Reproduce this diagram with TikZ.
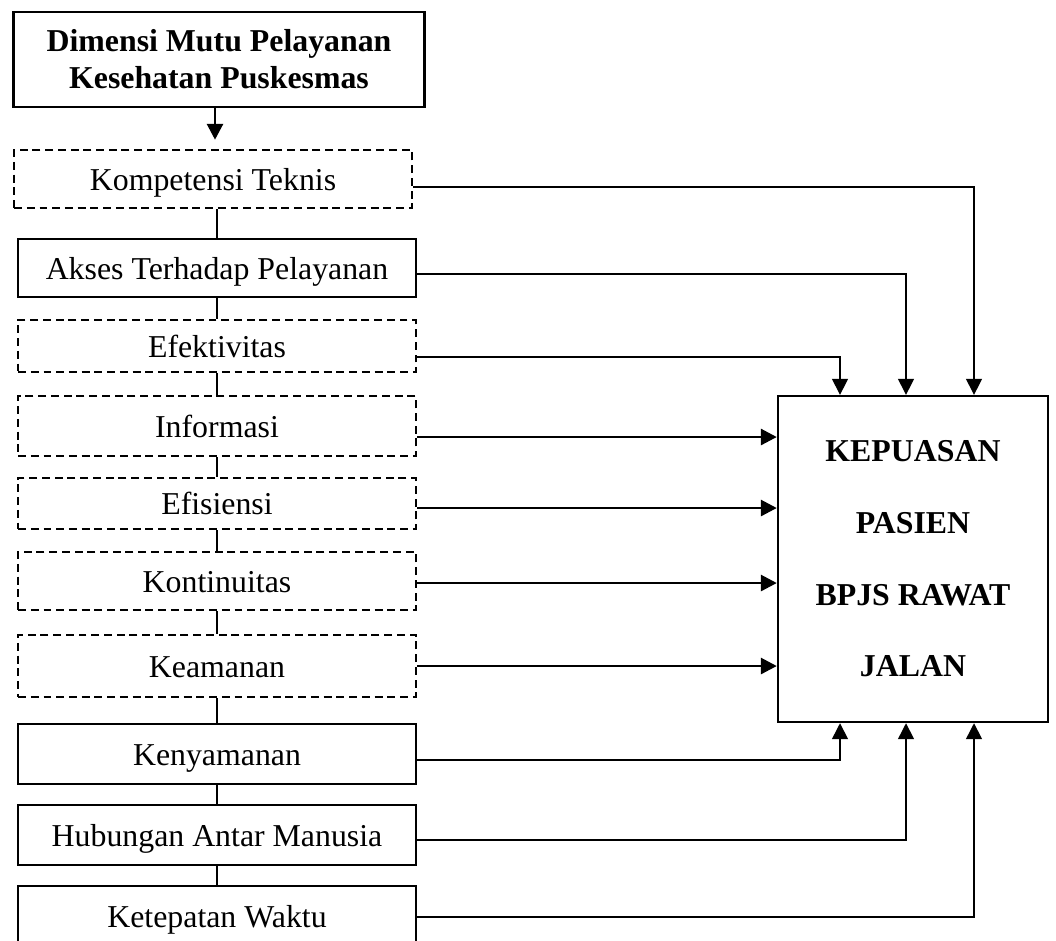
\documentclass[tikz,border=0pt]{standalone}
\usepackage{fontspec}
\setmainfont{Liberation Serif}
\usetikzlibrary{arrows.meta}

\begin{document}
\begin{tikzpicture}[x=0.377pt, y=-0.377pt,
    >={Triangle[length=6pt,width=6pt]},
    dimbox/.style={draw, line width=0.9pt, minimum width=150pt, inner sep=0pt,
        text height=8.4pt, text depth=0pt, font=\fontsize{12}{14}\selectfont},
    dimdash/.style={dimbox, dash pattern=on 3pt off 1.8pt},
    thinline/.style={line width=0.55pt},
    thickline/.style={line width=1.1pt}]
    \useasboundingbox (0,0) rectangle (1056,940);

    % Header box
    \node[draw, line width=0.9pt, minimum width=155pt, minimum height=35.8pt,
        align=center, font=\bfseries\fontsize{12}{14}\selectfont]
        (dimensi) at (219,59.5) {Dimensi Mutu Pelayanan\\Kesehatan Puskesmas};

    % Dimensions (left column)
    \node[dimdash, minimum height=21.9pt] (kompetensi) at (213,179) {Kompetensi Teknis};
    \node[dimbox, minimum height=21.9pt] (akses) at (217,268) {Akses Terhadap Pelayanan};
    \node[dimdash, minimum height=19.6pt] (efektivitas) at (217,346) {Efektivitas};
    \node[dimdash, minimum height=22.6pt] (informasi) at (217,426) {Informasi};
    \node[dimdash, minimum height=19.2pt] (efisiensi) at (217,503.5) {Efisiensi};
    \node[dimdash, minimum height=21.9pt] (kontinuitas) at (217,581) {Kontinuitas};
    \node[dimdash, minimum height=23.4pt] (keamanan) at (217,666) {Keamanan};
    \node[dimbox, minimum height=22.6pt] (kenyamanan) at (217,754) {Kenyamanan};
    \node[dimbox, minimum height=22.6pt] (hubungan) at (217,835) {Hubungan Antar Manusia};
    \node[dimbox, minimum height=22.6pt] (ketepatan) at (217,916) {Ketepatan Waktu};

    % Outcome box
    \node[draw, line width=0.9pt, minimum width=101.8pt, minimum height=122.9pt,
        align=center, font=\bfseries\fontsize{12}{14.4}\selectfont]
        (kepuasan) at (913,559) {KEPUASAN\\[12.6pt]PASIEN\\[12.6pt]BPJS RAWAT\\[12.6pt]JALAN};

    % Header to first dimension
    \draw[thickline, ->, shorten >=3.4pt] (dimensi.south -| 215,0) -- (kompetensi.north -| 215,0);

    % Chain of dimensions
    \draw[thinline] (akses.north |- kompetensi.south) -- (akses.north);
    \draw[thinline] (akses.south) -- (efektivitas.north);
    \draw[thinline] (efektivitas.south) -- (informasi.north);
    \draw[thinline] (informasi.south) -- (efisiensi.north);
    \draw[thinline] (efisiensi.south) -- (kontinuitas.north);
    \draw[thinline] (kontinuitas.south) -- (keamanan.north);
    \draw[thinline] (keamanan.south) -- (kenyamanan.north);
    \draw[thinline] (kenyamanan.south) -- (hubungan.north);
    \draw[thinline] (hubungan.south) -- (ketepatan.north);

    % From above
    \draw[thinline, ->] (kompetensi.east |- 0,187) -| (kepuasan.north -| 974,0);
    \draw[thinline, ->] (akses.east |- 0,274) -| (kepuasan.north -| 906,0);
    \draw[thinline, ->] (efektivitas.east |- 0,357) -| (kepuasan.north -| 840,0);

    % Straight in
    \draw[thickline, ->] (informasi.east |- 0,437) -- (kepuasan.west |- 0,437);
    \draw[thickline, ->] (efisiensi.east |- 0,508) -- (kepuasan.west |- 0,508);
    \draw[thickline, ->] (kontinuitas.east |- 0,583) -- (kepuasan.west |- 0,583);
    \draw[thickline, ->] (keamanan.east |- 0,666) -- (kepuasan.west |- 0,666);

    % From below
    \draw[thinline, ->] (kenyamanan.east |- 0,760) -| (kepuasan.south -| 840,0);
    \draw[thinline, ->] (hubungan.east |- 0,840) -| (kepuasan.south -| 906,0);
    \draw[thinline, ->] (ketepatan.east |- 0,917) -| (kepuasan.south -| 974,0);
\end{tikzpicture}
\end{document}
